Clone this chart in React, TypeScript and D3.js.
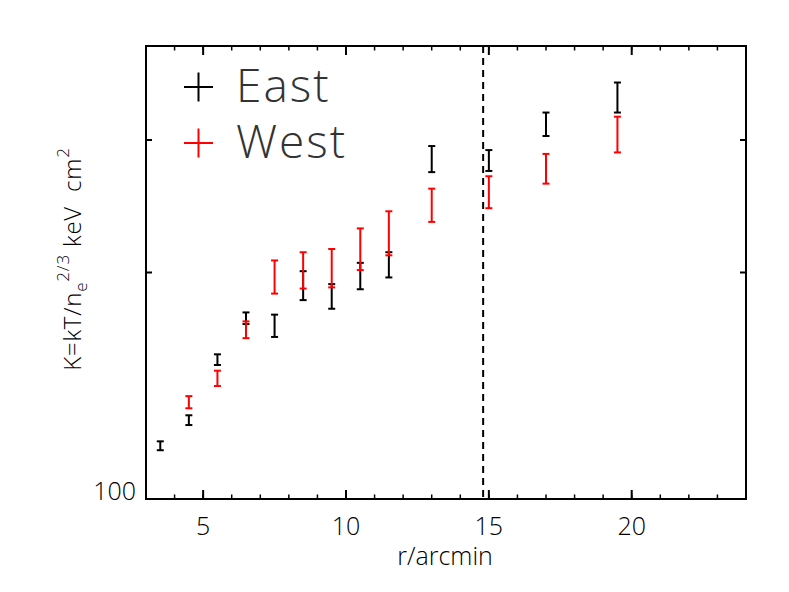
import React from "react";
import * as d3 from "d3";

const eastR = [3.5, 4.5, 5.5, 6.5, 7.5, 8.5, 9.5, 10.5, 11.5, 13, 15, 17, 19.5];
const eastK = [117.7, 127.3, 153.2, 173.9, 170, 192.3, 186, 198, 204.9, 283.2, 281.9, 315, 342];
const eastErr = [1.6, 1.9, 2.5, 3.1, 5.8, 8.5, 7, 8, 7.9, 11.3, 9, 11.3, 15.7];

const westR = [4.5, 5.5, 6.5, 7.5, 8.5, 9.5, 10.5, 11.5, 13, 15, 17, 19.5];
const westK = [134.5, 144.7, 167.9, 197.5, 201.6, 203, 215.2, 226, 246, 256, 275, 305.5];
const westErr = [2.5, 3.4, 4.3, 10, 11.2, 11.9, 13.7, 15.2, 12.5, 12.5, 12.5, 16.7];

const xMajorTicks = [5, 10, 15, 20];
const xMinorTicks = d3.range(4, 24, 1);
const yMajorTicks = [200, 300];
const yTickLabels = ["100"];
const boundaryR = 14.8;
const seriesNames = ["East", "West"];
const seriesColors = ["#000000", "#ff0000"];

const W = 789;
const H = 592;
const left = 146, right = 746, top = 46, bottom = 499;

export default function App() {
  const x = d3.scaleLinear().domain([3, 24]).range([left, right]);
  const y = d3.scaleLog().domain([100, 400]).range([bottom, top]);
  const thinFont = "'Open Sans', 'DejaVu Sans', sans-serif";
  const textColor = "#000";

  const bars = (rs: number[], ks: number[], es: number[], color: string, key: string) =>
    rs.map((r, i) => {
      const cx = x(r);
      const y1 = y(ks[i] + es[i]);
      const y0 = y(Math.max(ks[i] - es[i], 100));
      const cw = 3.5;
      return (
        <g key={key + i} stroke={color} strokeWidth={2}>
          <line x1={cx} x2={cx} y1={y0} y2={y1} />
          <line x1={cx - cw} x2={cx + cw} y1={y1} y2={y1} />
          <line x1={cx - cw} x2={cx + cw} y1={y0} y2={y0} />
        </g>
      );
    });

  return (
    <svg width={W} height={H} style={{ position: "absolute", left: 0, top: 0, background: "#fff" }}>
      <rect x={0} y={0} width={W} height={H} fill="#fff" />
      {/* dashed boundary */}
      <line x1={x(boundaryR)} x2={x(boundaryR)} y1={top} y2={bottom} stroke="#000" strokeWidth={2} strokeDasharray="7,5" />
      {/* data */}
      {bars(eastR, eastK, eastErr, seriesColors[0], "e")}
      {bars(westR, westK, westErr, seriesColors[1], "w")}
      {/* axes box */}
      <rect x={left} y={top} width={right - left} height={bottom - top} fill="none" stroke="#000" strokeWidth={2} />
      {/* x ticks */}
      {xMinorTicks.map((t) => (
        <g key={"xm" + t} stroke="#000" strokeWidth={1.5}>
          <line x1={x(t)} x2={x(t)} y1={bottom} y2={bottom - 4.5} />
          <line x1={x(t)} x2={x(t)} y1={top} y2={top + 4.5} />
        </g>
      ))}
      {xMajorTicks.map((t) => (
        <g key={"xM" + t}>
          <line x1={x(t)} x2={x(t)} y1={bottom} y2={bottom - 9} stroke="#000" strokeWidth={2} />
          <line x1={x(t)} x2={x(t)} y1={top} y2={top + 9} stroke="#000" strokeWidth={2} />
          <text x={x(t)} y={535} textAnchor="middle" fontFamily={thinFont} fontWeight={300} fontSize={25} fill={textColor}>
            {t}
          </text>
        </g>
      ))}
      {/* y ticks */}
      {yMajorTicks.map((t) => (
        <g key={"yM" + t} stroke="#000" strokeWidth={2}>
          <line x1={left} x2={left + 6} y1={y(t)} y2={y(t)} />
          <line x1={right} x2={right - 6} y1={y(t)} y2={y(t)} />
        </g>
      ))}
      <text x={136} y={500} textAnchor="end" fontFamily={thinFont} fontWeight={300} fontSize={25} fill={textColor}>
        {yTickLabels[0]}
      </text>
      {/* axis titles */}
      <text x={445} y={565} textAnchor="middle" fontFamily={thinFont} fontWeight={300} fontSize={25} fill={textColor}>
        r/arcmin
      </text>
      <text
        transform="translate(81,259) rotate(-90)"
        textAnchor="middle"
        fontFamily={thinFont}
        fontWeight={300}
        fontSize={24}
        fill={textColor}
        letterSpacing={0.8}
      >
        K=kT/n
        <tspan fontSize={17} dy={6}>e</tspan>
        <tspan fontSize={17} dy={-18}>2/3</tspan>
        <tspan dy={12}>{"\u00a0keV\u00a0\u00a0cm"}</tspan>
        <tspan fontSize={17} dy={-12}>2</tspan>
      </text>
      {/* legend */}
      {seriesNames.map((name, i) => {
        const cy = 87 + i * 56;
        return (
          <g key={"lg" + name}>
            <line x1={184} x2={213} y1={cy} y2={cy} stroke={seriesColors[i]} strokeWidth={2} />
            <line x1={198.5} x2={198.5} y1={cy - 14.5} y2={cy + 14.5} stroke={seriesColors[i]} strokeWidth={2} />
            <text x={236} y={cy + 15} fontFamily={thinFont} fontWeight={300} fontSize={46} fill="#333" letterSpacing={2}>
              {name}
            </text>
          </g>
        );
      })}
    </svg>
  );
}
